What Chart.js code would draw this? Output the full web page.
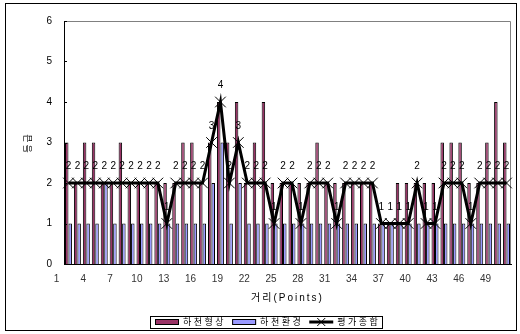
<!DOCTYPE html>
<html>
<head>
<meta charset="utf-8">
<script src="https://cdn.jsdelivr.net/npm/chart.js@4.4.0/dist/chart.umd.min.js"></script>
<style>
html,body{margin:0;padding:0;background:#fff;}
#wrap{position:relative;width:520px;height:334px;background:#fff;}
canvas{display:block;}
</style>
</head>
<body>
<div id="wrap"><canvas id="c" width="520" height="334"></canvas></div>
<script>
// ---- data ----
const categories = ['1','2','3','4','5','6','7','8','9','10',
  '11','12','13','14','15','16','17','18','19','20',
  '21','22','23','24','25','26','27','28','29','30',
  '31','32','33','34','35','36','37','38','39','40',
  '41','42','43','44','45','46','47','48','49','50'];
const tickLabels = ['1','4','7','10','13','16','19','22','25','28','31','34','37','40','43','46','49'];
const yTicks = [0,1,2,3,4,5,6];
const seriesNames = ['하천형상','하천환경','평가종합'];
const riverForm = [3,2,3,3,2,2,3,2,2,2, 2,2,2,3,3,2,3,4,3,4, 2,3,4,2,2,2,2,2,3,2, 2,2,2,2,2,1,1,2,2,2, 2,2,3,3,3,2,2,3,4,3];
const riverEnv  = [1,1,1,1,2,1,1,1,1,1, 1,1,1,1,1,1,2,3,1,2, 1,1,1,1,1,1,1,1,1,1, 1,1,1,1,1,1,1,1,1,1, 1,1,1,1,1,1,1,1,1,1];
const overall   = [2,2,2,2,2,2,2,2,2,2, 2,1,2,2,2,2,3,4,2,3, 2,2,2,1,2,2,1,2,2,2, 1,2,2,2,2,1,1,1,1,2, 1,1,2,2,2,1,2,2,2,2];

const FONT = "'Liberation Sans', Arial, 'Noto Sans CJK KR', sans-serif";
const SPACING = '2px';
const LEG = { x: 155, y: 322, font: 9, spacing: 2.5, swatch: 24, textGap: 4, itemGap: 6 };

Chart.defaults.font.family = FONT;
Chart.defaults.color = '#000';

function drawLegend(chart){
  const ctx = chart.ctx;
  const ds = chart.data.datasets;
  ctx.save();
  ctx.font = LEG.font + 'px ' + FONT;
  ctx.textAlign = 'left';
  ctx.textBaseline = 'middle';
  let x = LEG.x;
  const cy = LEG.y;
  ds.forEach((d, i) => {
    // swatch
    if (d.type === 'bar') {
      ctx.fillStyle = d.backgroundColor;
      ctx.fillRect(x, cy - 3, LEG.swatch, 6);
      ctx.strokeStyle = '#000'; ctx.lineWidth = 1;
      ctx.strokeRect(x + 0.5, cy - 2.5, LEG.swatch - 1, 5);
    } else {
      ctx.strokeStyle = d.borderColor; ctx.lineWidth = 3;
      ctx.beginPath(); ctx.moveTo(x, cy); ctx.lineTo(x + LEG.swatch, cy); ctx.stroke();
      const mx = x + LEG.swatch / 2;
      ctx.lineWidth = 1;
      ctx.beginPath();
      ctx.moveTo(mx - 4, cy - 4); ctx.lineTo(mx + 4, cy + 4);
      ctx.moveTo(mx - 4, cy + 4); ctx.lineTo(mx + 4, cy - 4);
      ctx.stroke();
    }
    x += LEG.swatch + LEG.textGap;
    ctx.letterSpacing = '0px';
    const w = ctx.measureText(d.label).width + d.label.length * LEG.spacing;
    ctx.letterSpacing = LEG.spacing + 'px';
    ctx.fillStyle = '#000';
    ctx.fillText(d.label, x, cy + 0.5);
    x += w + (i < ds.length - 1 ? LEG.itemGap : 0);
  });
  ctx.letterSpacing = '0px';
  ctx.strokeStyle = '#000'; ctx.lineWidth = 1;
  ctx.strokeRect(LEG.x - 5 + 0.5, cy - 6 + 0.5, Math.round(x - LEG.x + 7), 12);
  ctx.restore();
}

const deco = {
  id: 'deco',
  beforeUpdate(chart){ chart.ctx.letterSpacing = '0px'; },
  beforeDraw(chart){ chart.ctx.letterSpacing = SPACING; },
  beforeDatasetsDraw(chart){
    const {ctx, chartArea:a} = chart;
    ctx.letterSpacing = '0px';
    ctx.save();
    ctx.strokeStyle = '#808080'; ctx.lineWidth = 1;
    ctx.beginPath();
    ctx.moveTo(a.left, a.top + 0.5);
    ctx.lineTo(a.right - 0.5, a.top + 0.5);
    ctx.lineTo(a.right - 0.5, a.bottom);
    ctx.stroke();
    ctx.restore();
  },
  afterDatasetsDraw(chart){
    const ctx = chart.ctx;
    const meta = chart.getDatasetMeta(2);
    ctx.save();
    ctx.letterSpacing = '0px';
    ctx.font = '10px ' + FONT;
    ctx.fillStyle = '#000';
    ctx.textAlign = 'center';
    ctx.textBaseline = 'middle';
    meta.data.forEach((p, i) => {
      ctx.fillText(String(overall[i]), p.x, p.y - 16.5);
    });
    ctx.restore();
  },
  afterDraw(chart){
    const {ctx, chartArea:a} = chart;
    ctx.save();
    ctx.letterSpacing = '0px';
    const ys = chart.scales.y;
    ctx.strokeStyle = '#000'; ctx.lineWidth = 1;
    ctx.beginPath();
    yTicks.forEach(v => {
      const y = Math.round(ys.getPixelForValue(v)) + 0.5;
      ctx.moveTo(a.left, y); ctx.lineTo(a.left + 3, y);
    });
    ctx.stroke();
    ctx.strokeRect(5.5, 3.5, 511, 327);
    ctx.restore();
    drawLegend(chart);
  }
};

new Chart(document.getElementById('c'), {
  type: 'bar',
  data: {
    labels: categories,
    datasets: [
      { type: 'bar', label: seriesNames[0], data: riverForm, backgroundColor: '#993366', borderColor: '#000', borderWidth: 1, order: 2, categoryPercentage: 0.78, barPercentage: 1 },
      { type: 'bar', label: seriesNames[1], data: riverEnv, backgroundColor: '#9999FF', borderColor: '#000', borderWidth: 1, order: 2, categoryPercentage: 0.78, barPercentage: 1 },
      { type: 'line', label: seriesNames[2], data: overall, borderColor: '#000', backgroundColor: '#000', borderWidth: 3, pointStyle: 'crossRot', pointRadius: 7.5, pointBorderWidth: 1, pointBorderColor: '#000', pointBackgroundColor: '#000', fill: false, tension: 0, order: 1 }
    ]
  },
  options: {
    responsive: false,
    animation: false,
    devicePixelRatio: 1,
    events: [],
    layout: { padding: { left: 0, right: 9, top: 21, bottom: 25 } },
    scales: {
      x: {
        grid: { display: false, drawTicks: false },
        border: { display: true, color: '#000', width: 1 },
        ticks: {
          autoSkip: false, maxRotation: 0, minRotation: 0, padding: 9, z: 1,
          labelOffset: -12, color: '#333', font: { size: 10 },
          callback: function(value){ const lab = this.getLabelForValue(value); return tickLabels.includes(lab) ? lab : ''; }
        },
        title: { display: true, text: '거리(Points)', color: '#000', font: { size: 10 }, padding: { top: 0, bottom: 5 } },
        afterFit(s){ s.height = 45; }
      },
      y: {
        min: 0, max: 6,
        grid: { display: false, drawTicks: false },
        border: { display: true, color: '#000', width: 1 },
        ticks: { stepSize: 1, padding: 10, color: '#000', font: { size: 10 } },
        title: { display: true, text: '등급', color: '#000', font: { size: 9 }, padding: { top: 23, bottom: 0 } },
        afterFit(s){ s.width = 64; }
      }
    },
    plugins: {
      tooltip: { enabled: false },
      legend: { display: false }
    }
  },
  plugins: [deco]
});
</script>
</body>
</html>
